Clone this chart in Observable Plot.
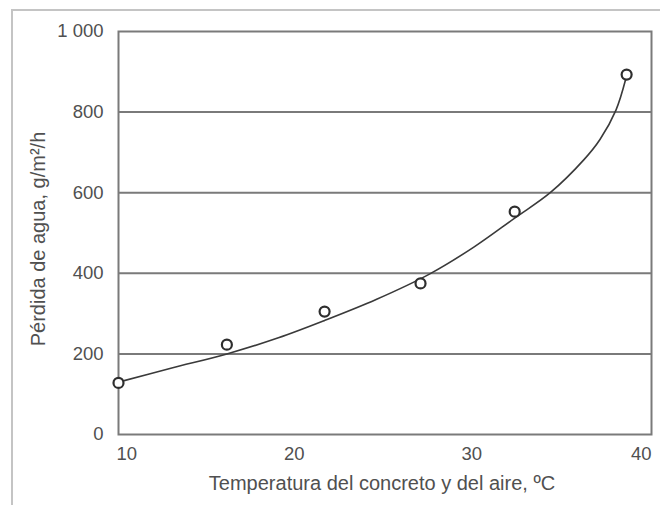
<!DOCTYPE html>
<html>
<head>
<meta charset="utf-8">
<script src="https://cdn.jsdelivr.net/npm/d3@7"></script>
<script src="https://cdn.jsdelivr.net/npm/@observablehq/plot@0.6"></script>
<style>
  html, body { margin: 0; padding: 0; background: #fff; }
  #wrap { position: relative; width: 660px; height: 505px; overflow: hidden; }
  #outer { position: absolute; left: 11px; top: 9px; width: 700px; height: 600px;
           border-top: 2px solid #c4c4c4; border-left: 2px solid #c4c4c4; pointer-events: none; }
</style>
</head>
<body>
<div id="wrap"><div id="outer"></div></div>
<script>
// Measured points (temperature °C, water loss g/m²/h)
const pointX = [10, 16.1, 21.6, 27.0, 32.3, 38.6];
const pointY = [128, 223, 305, 375, 553, 893];

// Fitted curve
const curveX = [10, 13, 16.1, 19, 21.6, 24.5, 27.5, 30, 32.3, 34.3, 36.2, 37.1, 38, 38.55];
const curveY = [130, 165, 200, 240, 283, 335, 398, 465, 537, 600, 682, 732, 805, 882];

const xTicks = [10, 20, 30, 40];
const yTicks = [0, 200, 400, 600, 800, 1000];
const yTickLabels = ["0", "200", "400", "600", "800", "1 000"];
const gridY = [200, 400, 600, 800];

const xTitle = "Temperatura del concreto y del aire, ºC";
const yTitle = "Pérdida de agua, g/m²/h";

const points = pointX.map((x, i) => ({x, y: pointY[i]}));
const curve = curveX.map((x, i) => ({x, y: curveY[i]}));

const lineColor = "#7a7a7a";
const textColor = "#505050";
const xAxisOpts = {tickSize: 0, tickPadding: 12, label: null, fill: textColor, fontSize: 18.5};

const chart = Plot.plot({
  width: 660,
  height: 505,
  marginLeft: 118,
  marginRight: 9,
  marginTop: 31,
  marginBottom: 71,
  style: {fontFamily: "Liberation Sans, Arial, sans-serif", fontSize: "18.5px", color: textColor, background: "transparent"},
  x: {domain: [10, 40]},
  y: {domain: [0, 1000]},
  marks: [
    Plot.ruleY(gridY, {stroke: lineColor, strokeWidth: 2}),
    Plot.frame({stroke: lineColor, strokeWidth: 2}),
    Plot.axisX({...xAxisOpts, ticks: xTicks.slice(0, 1), textAnchor: "start", dx: -2}),
    Plot.axisX({...xAxisOpts, ticks: xTicks.slice(1, -1), dx: -2}),
    Plot.axisX({...xAxisOpts, ticks: xTicks.slice(-1), textAnchor: "end"}),
    Plot.axisY({ticks: yTicks, tickSize: 0, tickPadding: 15, label: null, fill: textColor, fontSize: 18.5,
      tickFormat: d => yTickLabels[yTicks.indexOf(d)]}),
    Plot.line(curve, {x: "x", y: "y", curve: "catmull-rom", stroke: "#3a3a3a", strokeWidth: 1.6}),
    Plot.dot(points, {x: "x", y: "y", r: 5, stroke: "#2e2e2e", strokeWidth: 2.2, fill: "white"}),
    Plot.text([xTitle], {frameAnchor: "bottom", dy: 49, text: d => d, fill: textColor, fontSize: 20, lineAnchor: "middle", dx: -3}),
    Plot.text([yTitle], {frameAnchor: "left", dx: -80, dy: 6, rotate: -90, text: d => d, fill: textColor, fontSize: 20, textAnchor: "middle", lineAnchor: "middle"})
  ]
});
chart.style.position = "absolute";
chart.style.left = "0px";
chart.style.top = "0px";
document.getElementById("wrap").prepend(chart);
</script>
</body>
</html>
